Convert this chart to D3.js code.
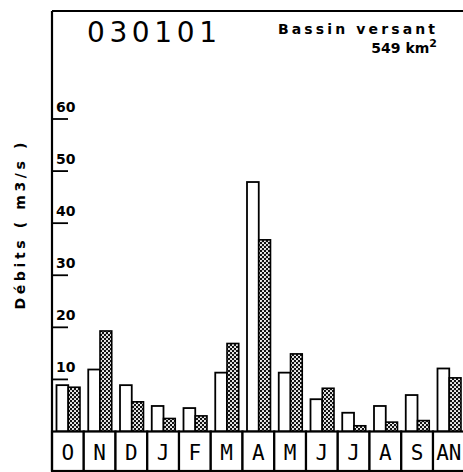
<!DOCTYPE html>
<html>
<head>
<meta charset="utf-8">
<script src="https://cdn.jsdelivr.net/npm/d3@7"></script>
<style>
  body { margin: 0; background: #fff; }
  svg { display: block; }
</style>
</head>
<body>
<script>
const width = 463;
const height = 472;

// monthly flows (m3/s), hydrological year Oct -> Sep, plus annual
const months = ["O", "N", "D", "J", "F", "M", "A", "M", "J", "J", "A", "S", "AN"];
const seriesWhite = [8.9, 11.9, 8.9, 4.9, 4.5, 11.3, 47.9, 11.3, 6.2, 3.6, 4.9, 7.0, 12.1];
const seriesHatch = [8.5, 19.3, 5.7, 2.5, 3.0, 16.9, 36.8, 14.9, 8.3, 1.1, 1.8, 2.1, 10.3];
const yTicks = [10, 20, 30, 40, 50, 60];

const axisX = 52, frameTop = 11, baseY = 431.5, boxBottom = 471;

const svg = d3.select("body").append("svg")
    .attr("width", width)
    .attr("height", height);

// crosshatch fill
const pat = svg.append("defs").append("pattern")
    .attr("id", "hatch")
    .attr("patternUnits", "userSpaceOnUse")
    .attr("width", 4)
    .attr("height", 4);
pat.append("rect").attr("width", 4).attr("height", 4).attr("fill", "#111");
pat.append("circle").attr("cx", 1).attr("cy", 1).attr("r", 1.05).attr("fill", "#fff");
pat.append("circle").attr("cx", 3).attr("cy", 3).attr("r", 1.05).attr("fill", "#fff");

const y = d3.scaleLinear().domain([0, 60]).range([baseY, 119]);
const x = d3.scaleBand().domain(d3.range(months.length)).range([axisX, axisX + 31.75 * months.length]);
const xi = d3.scaleBand().domain(["w", "h"]).range([4.5, 28]);

const data = months.map((m, i) => ({i: i, m: m, w: seriesWhite[i], h: seriesHatch[i]}));

// bars
const g = svg.append("g");
data.forEach(d => {
    g.append("rect")
        .attr("x", x(d.i) + xi("w"))
        .attr("y", y(d.w))
        .attr("width", xi.bandwidth())
        .attr("height", y(0) - y(d.w))
        .attr("fill", "#fff")
        .attr("stroke", "#000")
        .attr("stroke-width", 1.8);
    g.append("rect")
        .attr("x", x(d.i) + xi("h"))
        .attr("y", y(d.h))
        .attr("width", xi.bandwidth())
        .attr("height", y(0) - y(d.h))
        .attr("fill", "url(#hatch)")
        .attr("stroke", "#000")
        .attr("stroke-width", 1.6);
});

// month boxes
const boxes = svg.append("g");
boxes.selectAll("rect")
    .data(data)
    .enter()
    .append("rect")
    .attr("x", d => x(d.i))
    .attr("y", baseY)
    .attr("width", x.bandwidth())
    .attr("height", boxBottom - baseY)
    .attr("fill", "#fff")
    .attr("stroke", "#000")
    .attr("stroke-width", 2.2);
boxes.selectAll("text")
    .data(data)
    .enter()
    .append("text")
    .attr("x", d => x(d.i) + x.bandwidth() / 2)
    .attr("y", 460)
    .attr("text-anchor", "middle")
    .attr("font-family", "DejaVu Sans Mono, monospace")
    .attr("font-size", 21)
    .attr("fill", "#000")
    .text(d => d.m);

// frame / y axis
svg.append("line")
    .attr("x1", axisX).attr("x2", axisX)
    .attr("y1", frameTop).attr("y2", boxBottom)
    .attr("stroke", "#000").attr("stroke-width", 2.2);
svg.append("line")
    .attr("x1", axisX).attr("x2", width)
    .attr("y1", frameTop).attr("y2", frameTop)
    .attr("stroke", "#000").attr("stroke-width", 2);

const ticks = svg.append("g");
ticks.selectAll("line")
    .data(yTicks)
    .enter()
    .append("line")
    .attr("x1", axisX).attr("x2", 68)
    .attr("y1", d => y(d)).attr("y2", d => y(d))
    .attr("stroke", "#000").attr("stroke-width", 1.8);
ticks.selectAll("text")
    .data(yTicks)
    .enter()
    .append("text")
    .attr("x", 56)
    .attr("y", d => y(d) - 7)
    .attr("font-family", "DejaVu Sans, sans-serif")
    .attr("font-weight", "bold")
    .attr("font-size", 14)
    .text(d => d);

// y label
svg.append("text")
    .attr("transform", "translate(25,226) rotate(-90)")
    .attr("text-anchor", "middle")
    .attr("font-family", "DejaVu Sans, sans-serif")
    .attr("font-weight", "bold")
    .attr("font-size", 14)
    .attr("textLength", 167)
    .attr("lengthAdjust", "spacing")
    .text("Débits ( m3/s )");

// titles
svg.append("text")
    .attr("x", 87).attr("y", 42)
    .attr("font-family", "DejaVu Sans, sans-serif")
    .attr("font-size", 28)
    .attr("textLength", 130)
    .attr("lengthAdjust", "spacing")
    .text("030101");

svg.append("text")
    .attr("x", 278).attr("y", 34)
    .attr("font-family", "DejaVu Sans, sans-serif")
    .attr("font-weight", "bold")
    .attr("font-size", 14)
    .attr("textLength", 157)
    .attr("lengthAdjust", "spacing")
    .text("Bassin versant");

const area = svg.append("text")
    .attr("x", 437).attr("y", 53)
    .attr("text-anchor", "end")
    .attr("font-family", "DejaVu Sans, sans-serif")
    .attr("font-weight", "bold")
    .attr("font-size", 14);
area.append("tspan").text("549 km");
area.append("tspan").attr("dy", -6).attr("font-size", 11).text("2");
</script>
</body>
</html>
